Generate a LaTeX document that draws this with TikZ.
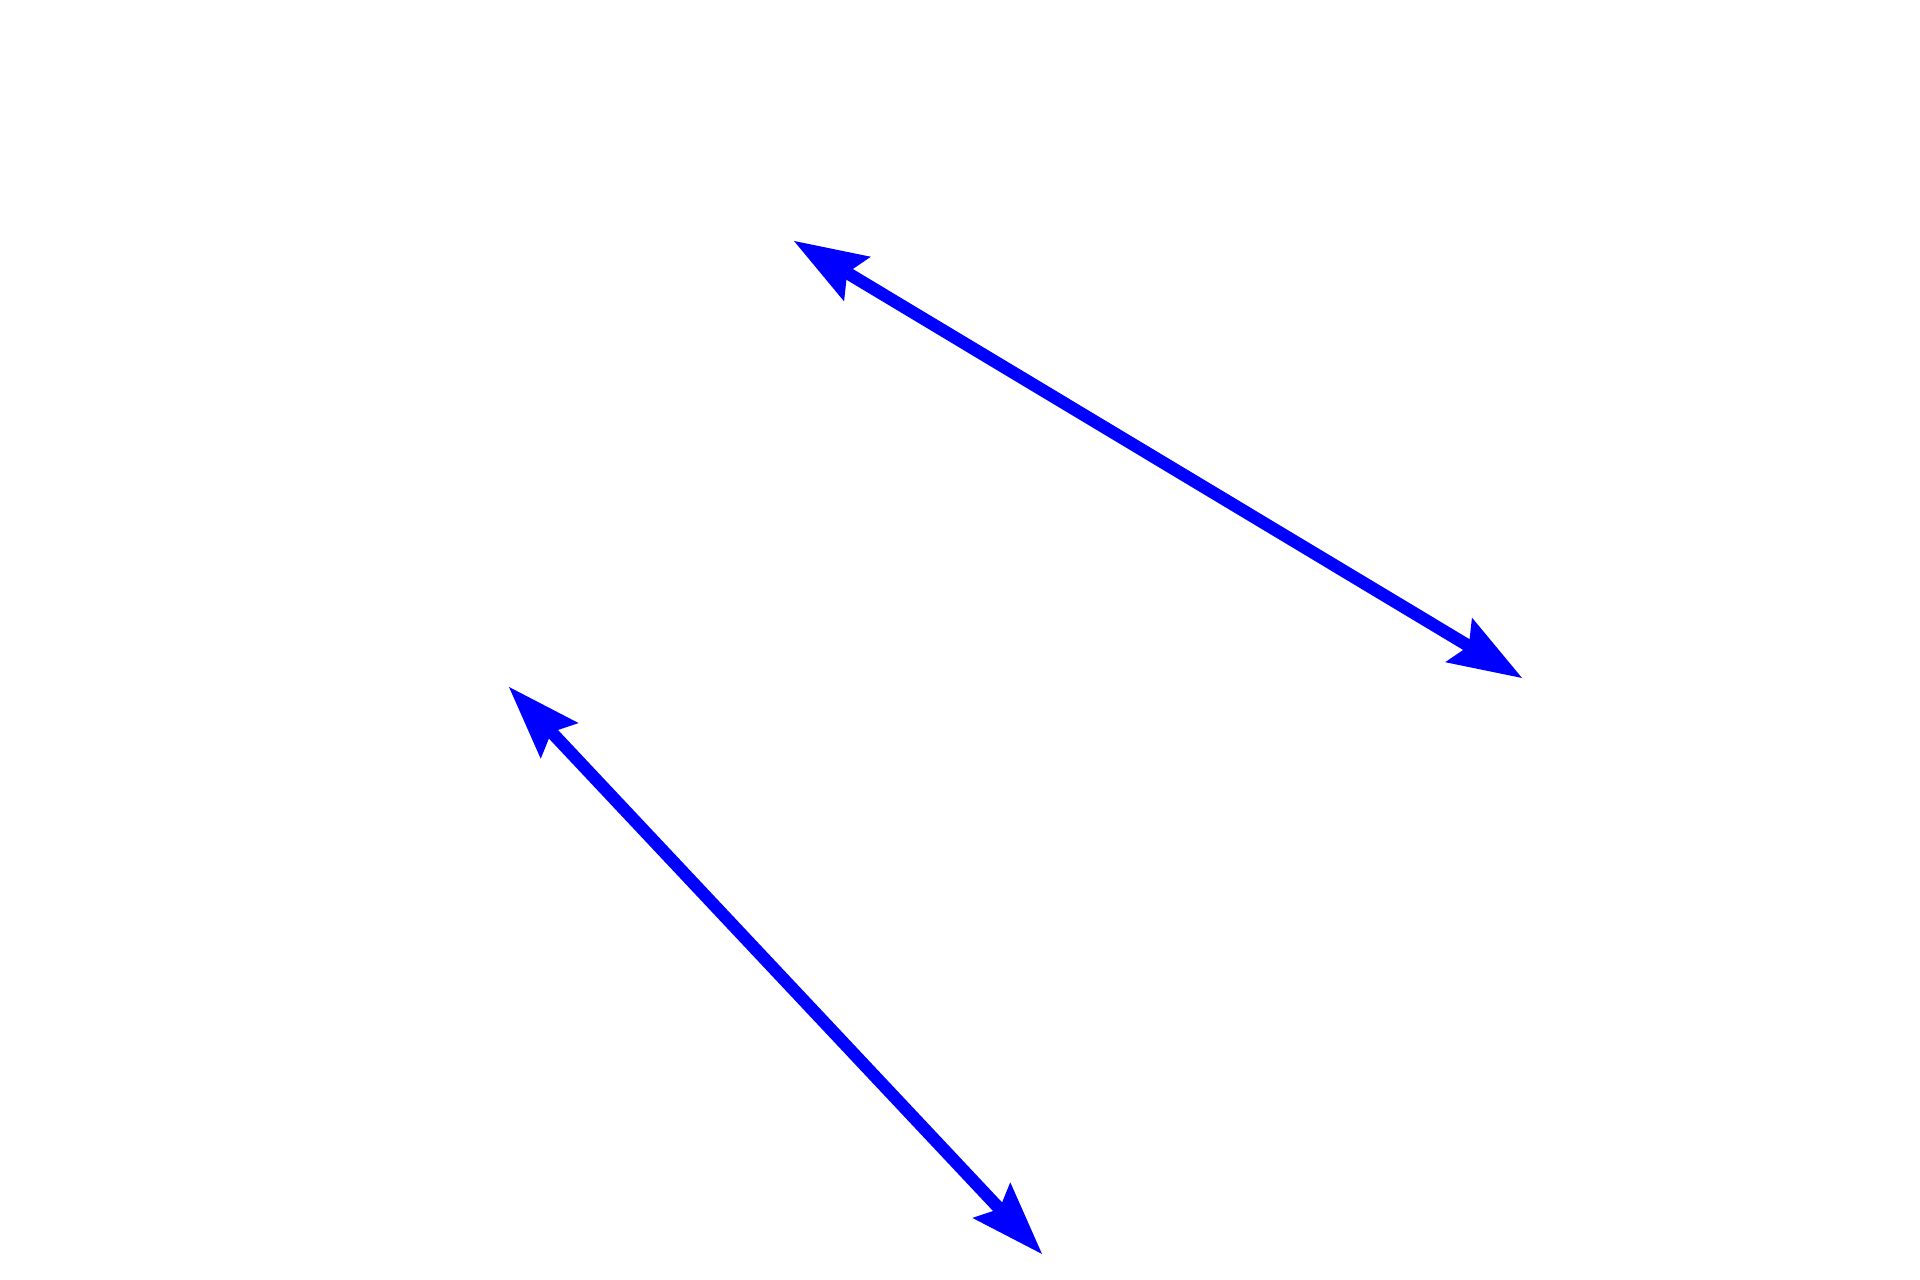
\documentclass[tikz,border=0pt]{standalone}
\usetikzlibrary{arrows.meta}
\definecolor{arrowblue}{RGB}{0,0,255}
\tikzset{
  dblarrow/.style={draw=arrowblue, line width=0.125cm,
    {Stealth[length=0.74cm, width=0.52cm, inset=0.12cm, line width=0pt, fill=arrowblue]}-{Stealth[length=0.74cm, width=0.52cm, inset=0.12cm, line width=0pt, fill=arrowblue]}}
}
\begin{document}
\begin{tikzpicture}
\useasboundingbox (0,0) rectangle (19.2,12.8);
\coordinate (a1) at (7.94,10.39);
\coordinate (a2) at (15.22,6.02);
\coordinate (b1) at (5.09,5.93);
\coordinate (b2) at (10.42,0.26);
\draw[dblarrow] (a1) -- (a2);
\draw[dblarrow] (b1) -- (b2);
\end{tikzpicture}
\end{document}
